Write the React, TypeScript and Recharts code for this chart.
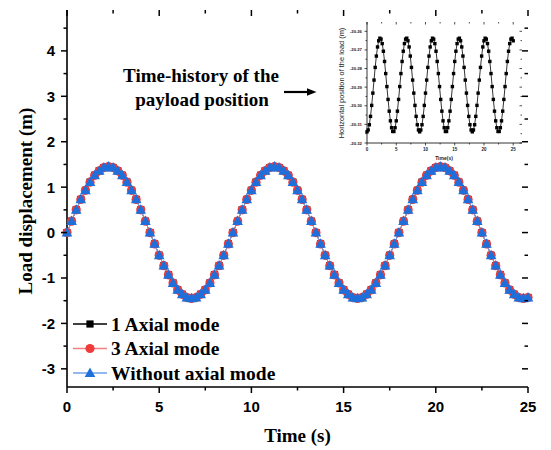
import React from "react";
import { Legend, Line, LineChart, XAxis, YAxis } from "recharts";

// sampling instants of the main plot (s)
const time = [
	0, 0.25, 0.5, 0.75, 1, 1.25, 1.5, 1.75, 2, 2.25, 2.5, 2.75, 3, 3.25, 3.5, 3.75, 4,
	4.25, 4.5, 4.75, 5, 5.25, 5.5, 5.75, 6, 6.25, 6.5, 6.75, 7, 7.25, 7.5, 7.75, 8,
	8.25, 8.5, 8.75, 9, 9.25, 9.5, 9.75, 10, 10.25, 10.5, 10.75, 11, 11.25, 11.5,
	11.75, 12, 12.25, 12.5, 12.75, 13, 13.25, 13.5, 13.75, 14, 14.25, 14.5, 14.75, 15,
	15.25, 15.5, 15.75, 16, 16.25, 16.5, 16.75, 17, 17.25, 17.5, 17.75, 18, 18.25,
	18.5, 18.75, 19, 19.25, 19.5, 19.75, 20, 20.25, 20.5, 20.75, 21, 21.25, 21.5,
	21.75, 22, 22.25, 22.5, 22.75, 23, 23.25, 23.5, 23.75, 24, 24.25, 24.5, 24.75, 25,
];

// load displacement (m) - the three models lie on top of each other
const axial1 = [
	0, 0.25, 0.5, 0.73, 0.93, 1.11, 1.26, 1.36, 1.43, 1.45, 1.43, 1.36, 1.26, 1.11, 0.93, 0.73, 0.5, 0.25,
	0, -0.25, -0.5, -0.73, -0.93, -1.11, -1.26, -1.36, -1.43, -1.45, -1.43, -1.36, -1.26, -1.11, -0.93, -0.73, -0.5, -0.25,
	0, 0.25, 0.5, 0.73, 0.93, 1.11, 1.26, 1.36, 1.43, 1.45, 1.43, 1.36, 1.26, 1.11, 0.93, 0.73, 0.5, 0.25,
	0, -0.25, -0.5, -0.73, -0.93, -1.11, -1.26, -1.36, -1.43, -1.45, -1.43, -1.36, -1.26, -1.11, -0.93, -0.73, -0.5, -0.25,
	0, 0.25, 0.5, 0.73, 0.93, 1.11, 1.26, 1.36, 1.43, 1.45, 1.43, 1.36, 1.26, 1.11, 0.93, 0.73, 0.5, 0.25,
	0, -0.25, -0.5, -0.73, -0.93, -1.11, -1.26, -1.36, -1.43, -1.45, -1.43,
];
const axial3 = [
	0, 0.25, 0.5, 0.73, 0.93, 1.11, 1.26, 1.36, 1.43, 1.45, 1.43, 1.36, 1.26, 1.11, 0.93, 0.73, 0.5, 0.25,
	0, -0.25, -0.5, -0.73, -0.93, -1.11, -1.26, -1.36, -1.43, -1.45, -1.43, -1.36, -1.26, -1.11, -0.93, -0.73, -0.5, -0.25,
	0, 0.25, 0.5, 0.73, 0.93, 1.11, 1.26, 1.36, 1.43, 1.45, 1.43, 1.36, 1.26, 1.11, 0.93, 0.73, 0.5, 0.25,
	0, -0.25, -0.5, -0.73, -0.93, -1.11, -1.26, -1.36, -1.43, -1.45, -1.43, -1.36, -1.26, -1.11, -0.93, -0.73, -0.5, -0.25,
	0, 0.25, 0.5, 0.73, 0.93, 1.11, 1.26, 1.36, 1.43, 1.45, 1.43, 1.36, 1.26, 1.11, 0.93, 0.73, 0.5, 0.25,
	0, -0.25, -0.5, -0.73, -0.93, -1.11, -1.26, -1.36, -1.43, -1.45, -1.43,
];
const noAxial = [
	0, 0.25, 0.5, 0.73, 0.93, 1.11, 1.26, 1.36, 1.43, 1.45, 1.43, 1.36, 1.26, 1.11, 0.93, 0.73, 0.5, 0.25,
	0, -0.25, -0.5, -0.73, -0.93, -1.11, -1.26, -1.36, -1.43, -1.45, -1.43, -1.36, -1.26, -1.11, -0.93, -0.73, -0.5, -0.25,
	0, 0.25, 0.5, 0.73, 0.93, 1.11, 1.26, 1.36, 1.43, 1.45, 1.43, 1.36, 1.26, 1.11, 0.93, 0.73, 0.5, 0.25,
	0, -0.25, -0.5, -0.73, -0.93, -1.11, -1.26, -1.36, -1.43, -1.45, -1.43, -1.36, -1.26, -1.11, -0.93, -0.73, -0.5, -0.25,
	0, 0.25, 0.5, 0.73, 0.93, 1.11, 1.26, 1.36, 1.43, 1.45, 1.43, 1.36, 1.26, 1.11, 0.93, 0.73, 0.5, 0.25,
	0, -0.25, -0.5, -0.73, -0.93, -1.11, -1.26, -1.36, -1.43, -1.45, -1.43,
];

// inset sampling instants (s)
const insetTime = [
	0, 0.2, 0.4, 0.6, 0.8, 1, 1.2, 1.4, 1.6, 1.8, 2, 2.2, 2.4, 2.6, 2.8, 3, 3.2, 3.4, 3.6, 3.8,
	4, 4.2, 4.4, 4.6, 4.8, 5, 5.2, 5.4, 5.6, 5.8, 6, 6.2, 6.4, 6.6, 6.8, 7, 7.2, 7.4, 7.6, 7.8,
	8, 8.2, 8.4, 8.6, 8.8, 9, 9.2, 9.4, 9.6, 9.8, 10, 10.2, 10.4, 10.6, 10.8, 11, 11.2, 11.4,
	11.6, 11.8, 12, 12.2, 12.4, 12.6, 12.8, 13, 13.2, 13.4, 13.6, 13.8, 14, 14.2, 14.4, 14.6,
	14.8, 15, 15.2, 15.4, 15.6, 15.8, 16, 16.2, 16.4, 16.6, 16.8, 17, 17.2, 17.4, 17.6, 17.8,
	18, 18.2, 18.4, 18.6, 18.8, 19, 19.2, 19.4, 19.6, 19.8, 20, 20.2, 20.4, 20.6, 20.8, 21,
	21.2, 21.4, 21.6, 21.8, 22, 22.2, 22.4, 22.6, 22.8, 23, 23.2, 23.4, 23.6, 23.8, 24, 24.2,
	24.4, 24.6, 24.8, 25,
];

// inset: horizontal position of the load (m)
const horizontalPos = [
	-20.314, -20.313, -20.3102, -20.3057, -20.2998, -20.2932, -20.2862, -20.2794, -20.2733,
	-20.2684, -20.2651, -20.2637, -20.2642, -20.2666, -20.2707, -20.2762, -20.2827, -20.2897,
	-20.2966, -20.3029, -20.3081, -20.3118, -20.3138, -20.3138, -20.3118, -20.3081, -20.3029,
	-20.2966, -20.2897, -20.2827, -20.2762, -20.2707, -20.2666, -20.2642, -20.2637, -20.2651,
	-20.2684, -20.2733, -20.2794, -20.2862, -20.2932, -20.2998, -20.3057, -20.3102, -20.313,
	-20.314, -20.313, -20.3102, -20.3057, -20.2998, -20.2932, -20.2862, -20.2794, -20.2733,
	-20.2684, -20.2651, -20.2637, -20.2642, -20.2666, -20.2707, -20.2762, -20.2827, -20.2897,
	-20.2966, -20.3029, -20.3081, -20.3118, -20.3138, -20.3138, -20.3118, -20.3081, -20.3029,
	-20.2966, -20.2897, -20.2827, -20.2762, -20.2707, -20.2666, -20.2642, -20.2637, -20.2651,
	-20.2684, -20.2733, -20.2794, -20.2862, -20.2932, -20.2998, -20.3057, -20.3102, -20.313,
	-20.314, -20.313, -20.3102, -20.3057, -20.2998, -20.2932, -20.2862, -20.2794, -20.2733,
	-20.2684, -20.2651, -20.2637, -20.2642, -20.2666, -20.2707, -20.2762, -20.2827, -20.2897,
	-20.2966, -20.3029, -20.3081, -20.3118, -20.3138, -20.3138, -20.3118, -20.3081, -20.3029,
	-20.2966, -20.2897, -20.2827, -20.2762, -20.2707, -20.2666, -20.2642, -20.2637, -20.2651,
];

// ticks (majors + minors)
const xTicks = [0, 2.5, 5, 7.5, 10, 12.5, 15, 17.5, 20, 22.5, 25];
const yTicks = [-3, -2.5, -2, -1.5, -1, -0.5, 0, 0.5, 1, 1.5, 2, 2.5, 3, 3.5, 4, 4.5];
const insetXTicks = [0, 2.5, 5, 7.5, 10, 12.5, 15, 17.5, 20, 22.5, 25];
const insetYTicks = [
	-20.32, -20.315, -20.31, -20.305, -20.3, -20.295, -20.29, -20.285, -20.28, -20.275,
	-20.27, -20.265, -20.26,
];

const SERIF = '"Liberation Serif", "Times New Roman", serif';
const SANS = '"Liberation Sans", Arial, sans-serif';

// plot frame of the main chart (px)
const PLOT_TOP = 10;
const PLOT_RIGHT = 528;
// plot frame of the inset, in its own svg
const INSET_TOP = 7;
const INSET_RIGHT = 192;

const SERIES = [
	{ key: "a1", name: "1 Axial mode", marker: "square", color: "#000000", line: "#000000" },
	{ key: "a3", name: "3 Axial mode", marker: "circle", color: "#EE3B3B", line: "#F47F7F" },
	{ key: "wo", name: "Without axial mode", marker: "triangle", color: "#1F6FDB", line: "#6FA0E8" },
];

const rows = time.map((t, i) => ({ t, a1: axial1[i], a3: axial3[i], wo: noAxial[i] }));
const insetRows = insetTime.map((t, i) => ({ t, h: horizontalPos[i] }));

function Marker({ kind, cx, cy, color }: { kind: string; cx: number; cy: number; color: string }) {
	if (kind === "square") {
		return <rect x={cx - 3.6} y={cy - 3.6} width={7.2} height={7.2} fill={color} />;
	}
	if (kind === "circle") {
		return <circle cx={cx} cy={cy} r={4.6} fill={color} />;
	}
	return (
		<polygon
			points={`${cx},${cy - 5.6} ${cx + 5.3},${cy + 3.9} ${cx - 5.3},${cy + 3.9}`}
			fill={color}
		/>
	);
}

const MainXTick = (props: any) => {
	const { x, y, payload } = props;
	const v = payload.value;
	const major = Math.abs(v % 5) < 1e-6;
	const len = major ? 6 : 3.5;
	return (
		<g>
			<line x1={x} y1={y} x2={x} y2={y + len} stroke="#000" strokeWidth={1.5} />
			<line x1={x} y1={PLOT_TOP} x2={x} y2={PLOT_TOP + len} stroke="#000" strokeWidth={1.5} />
			{major && (
				<text x={x} y={y + 25} textAnchor="middle" fontFamily={SANS} fontWeight="bold" fontSize={15} fill="#000">
					{v}
				</text>
			)}
		</g>
	);
};

const MainYTick = (props: any) => {
	const { x, y, payload } = props;
	const v = payload.value;
	const major = Number.isInteger(v);
	const len = major ? 6 : 3.5;
	return (
		<g>
			<line x1={x} y1={y} x2={x - len} y2={y} stroke="#000" strokeWidth={1.5} />
			<line x1={PLOT_RIGHT} y1={y} x2={PLOT_RIGHT - len} y2={y} stroke="#000" strokeWidth={1.5} />
			{major && (
				<text x={x - 12} y={y} dy="0.36em" textAnchor="end" fontFamily={SANS} fontWeight="bold" fontSize={15} fill="#000">
					{v}
				</text>
			)}
		</g>
	);
};

const InsetXTick = (props: any) => {
	const { x, y, payload } = props;
	const v = payload.value;
	const major = Math.abs(v % 5) < 1e-6;
	const len = major ? 2.5 : 1.5;
	return (
		<g>
			<line x1={x} y1={y} x2={x} y2={y + len} stroke="#000" strokeWidth={0.7} />
			<line x1={x} y1={INSET_TOP} x2={x} y2={INSET_TOP + len} stroke="#000" strokeWidth={0.7} />
			{major && (
				<text x={x} y={y + 8} textAnchor="middle" fontFamily={SANS} fontWeight="bold" fontSize={4.5} fill="#222">
					{v}
				</text>
			)}
		</g>
	);
};

const InsetYTick = (props: any) => {
	const { x, y, payload } = props;
	const v = payload.value;
	const major = Math.abs(Math.round(v * 100) - v * 100) < 1e-6;
	const len = major ? 2.5 : 1.5;
	return (
		<g>
			<line x1={x} y1={y} x2={x - len} y2={y} stroke="#000" strokeWidth={0.7} />
			<line x1={INSET_RIGHT} y1={y} x2={INSET_RIGHT - len} y2={y} stroke="#000" strokeWidth={0.7} />
			{major && (
				<text x={x - 5} y={y} dy="0.35em" textAnchor="end" fontFamily={SANS} fontWeight="bold" fontSize={4.3} fill="#222">
					{v.toFixed(2)}
				</text>
			)}
		</g>
	);
};

const renderLegend = () => (
	<svg width={240} height={76}>
		{SERIES.map((s, i) => {
			const cy = 13 + i * 24.5;
			return (
				<g key={s.key}>
					<line x1={1} x2={35} y1={cy} y2={cy} stroke={s.line} strokeWidth={1.3} />
					<Marker kind={s.marker} cx={18} cy={cy} color={s.color} />
					<text x={39} y={cy + 6.5} fontFamily={SERIF} fontWeight="bold" fontSize={19.5} fill="#000">
						{s.name}
					</text>
				</g>
			);
		})}
	</svg>
);

const frame = { stroke: "#000", strokeWidth: 1.6 };
const insetFrame = { stroke: "#000", strokeWidth: 0.8 };

export default function App() {
	return (
		<div style={{ position: "absolute", left: 0, top: 0, width: 551, height: 450, background: "#fff" }}>
			<LineChart width={551} height={450} data={rows} margin={{ top: 10, right: 23, bottom: 0, left: 0 }}>
				<XAxis
					dataKey="t"
					type="number"
					domain={[0, 25]}
					ticks={xTicks}
					interval={0}
					height={63}
					tickSize={0}
					tickMargin={0}
					tickLine={false}
					tick={<MainXTick />}
					axisLine={frame}
				/>
				<XAxis xAxisId="top" orientation="top" type="number" domain={[0, 25]} height={0} tick={false} tickLine={false} axisLine={frame} />
				<YAxis
					type="number"
					domain={[-3.4, 4.9]}
					ticks={yTicks}
					interval={0}
					width={67}
					tickSize={0}
					tickMargin={0}
					tickLine={false}
					tick={<MainYTick />}
					axisLine={frame}
				/>
				<YAxis yAxisId="right" orientation="right" type="number" domain={[-3.4, 4.9]} width={0} tick={false} tickLine={false} axisLine={frame} />
				<Legend
					layout="vertical"
					align="center"
					verticalAlign="middle"
					content={renderLegend}
					wrapperStyle={{ left: 72, top: 311, width: 240, height: 76 }}
				/>
				{SERIES.map((s) => (
					<Line
						key={s.key}
						dataKey={s.key}
						name={s.name}
						stroke={s.line}
						strokeWidth={1}
						activeDot={false}
						isAnimationActive={false}
						dot={(p: any) =>
							p.cx == null || p.cy == null ? (
								<g key={`${s.key}-${p.index}`} />
							) : (
								<Marker key={`${s.key}-${p.index}`} kind={s.marker} cx={p.cx} cy={p.cy} color={s.color} />
							)
						}
					/>
				))}
			</LineChart>

			<div style={{ position: "absolute", left: 330, top: 15 }}>
				<LineChart width={200} height={155} data={insetRows} margin={{ top: 7, right: 8, bottom: 0, left: 0 }}>
					<XAxis
						dataKey="t"
						type="number"
						domain={[0, 26.5]}
						ticks={insetXTicks}
						interval={0}
						height={27}
						tickSize={0}
						tickMargin={0}
						tickLine={false}
						tick={<InsetXTick />}
						axisLine={insetFrame}
					/>
					<XAxis xAxisId="top" orientation="top" type="number" domain={[0, 26.5]} height={0} tick={false} tickLine={false} axisLine={insetFrame} />
					<YAxis
						type="number"
						domain={[-20.32, -20.255]}
						ticks={insetYTicks}
						interval={0}
						width={37}
						tickSize={0}
						tickMargin={0}
						tickLine={false}
						tick={<InsetYTick />}
						axisLine={insetFrame}
					/>
					<YAxis yAxisId="right" orientation="right" type="number" domain={[-20.32, -20.255]} width={0} tick={false} tickLine={false} axisLine={insetFrame} />
					<Line
						dataKey="h"
						stroke="#000"
						strokeWidth={0.8}
						activeDot={false}
						isAnimationActive={false}
						dot={(p: any) =>
							p.cx == null || p.cy == null ? (
								<g key={`h-${p.index}`} />
							) : (
								<rect key={`h-${p.index}`} x={p.cx - 1.7} y={p.cy - 1.7} width={3.4} height={3.4} fill="#000" />
							)
						}
					/>
				</LineChart>
			</div>

			<svg width={551} height={450} style={{ position: "absolute", left: 0, top: 0, pointerEvents: "none" }}>
				<text transform="translate(32,201) rotate(-90)" textAnchor="middle" fontFamily={SERIF} fontWeight="bold" fontSize={19} fill="#000">
					Load displacement (m)
				</text>
				<text x={297.5} y={442} textAnchor="middle" fontFamily={SERIF} fontWeight="bold" fontSize={19} fill="#000">
					Time (s)
				</text>
				<text x={201} y={82} textAnchor="middle" fontFamily={SERIF} fontWeight="bold" fontSize={19} fill="#000">
					Time-history of the
				</text>
				<text x={202} y={106} textAnchor="middle" fontFamily={SERIF} fontWeight="bold" fontSize={19} fill="#000">
					payload position
				</text>
				<line x1={284} y1={92} x2={308} y2={92} stroke="#000" strokeWidth={2.2} />
				<polygon points="307,88.3 316.5,92 307,95.7" fill="#000" />
				<text transform="translate(344,83) rotate(-90)" textAnchor="middle" fontFamily={SANS} fontSize={7.4} fill="#222">
					Horizontal position of the load (m)
				</text>
				<text x={444} y={160} textAnchor="middle" fontFamily={SANS} fontWeight="bold" fontSize={5} fill="#222">
					Time(s)
				</text>
			</svg>
		</div>
	);
}
